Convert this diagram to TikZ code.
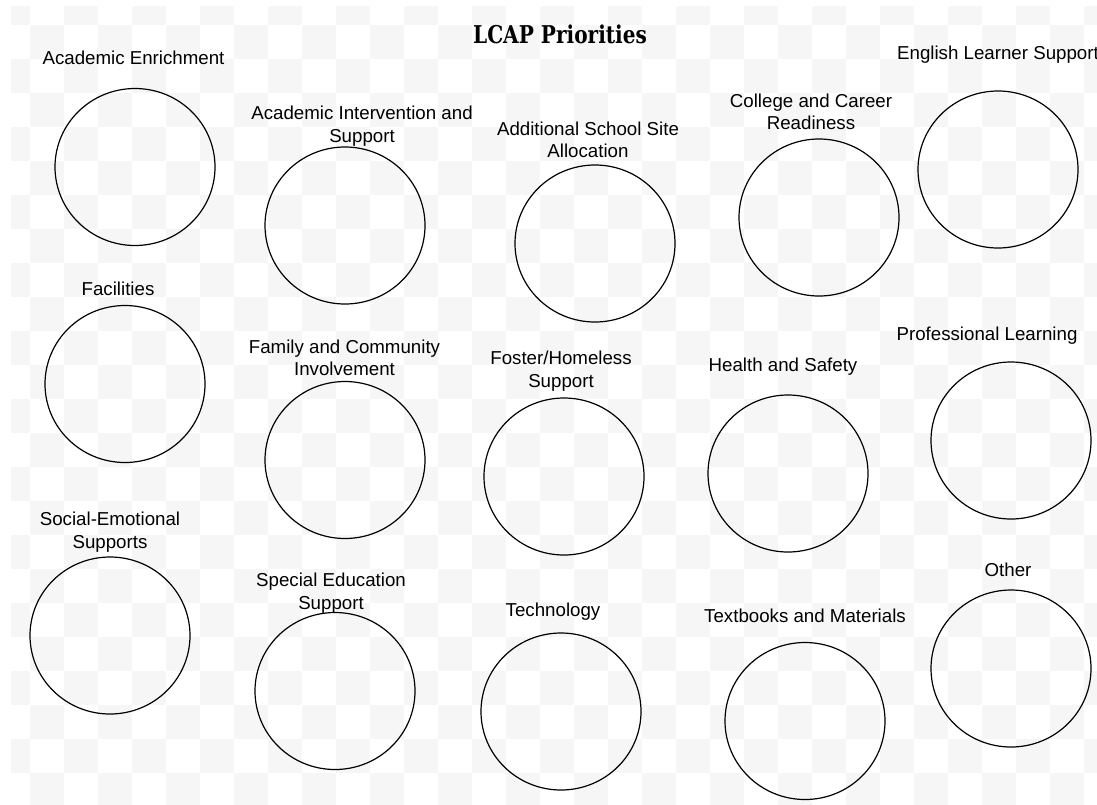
\documentclass[tikz,border=0pt]{standalone}
\usepackage{fontspec}
\setmainfont{Liberation Sans}
\newfontfamily\titlefont{DejaVu Serif}
\usetikzlibrary{shapes.geometric}
\definecolor{checkgray}{HTML}{F6F6F6}
\tikzset{
  prio/.style={draw=black, line width=1.2pt, ellipse, minimum width=160pt, minimum height=157pt, inner sep=0pt},
  lbl/.style={align=center, inner sep=0pt, font=\fontsize{18.7}{22.5}\selectfont, text=black},
}
\begin{document}
\begin{tikzpicture}[x=1pt,y=-1pt]
\useasboundingbox (0,0) rectangle (1097,804);
\fill[white] (0,0) rectangle (1097,804);
\begin{scope}
\clip (11,6) rectangle (1097,804);
\foreach \i in {0,...,32} {
  \foreach \j in {0,...,23} {
    \pgfmathtruncatemacro\cpar{mod(\i+\j,2)}
    \ifnum\cpar=0
      \fill[checkgray] ({29.8+34*(\i-1)},{25+34*(\j-1)}) rectangle +(34,34);
    \fi
  }
}
\end{scope}

\node[inner sep=0pt] (title) at (560,34) {\scalebox{0.82}[1]{\titlefont\bfseries\fontsize{24.5}{28}\selectfont LCAP Priorities}};

% circles
\node[prio] (ae) at (135,167) {};
\node[prio] (ais) at (345,225.5) {};
\node[prio] (assa) at (595,243.5) {};
\node[prio] (ccr) at (819,217.5) {};
\node[prio] (els) at (998,169.5) {};
\node[prio] (fac) at (125,384) {};
\node[prio] (fci) at (345,460) {};
\node[prio] (fhs) at (564,476.5) {};
\node[prio] (hs) at (788,473.5) {};
\node[prio] (pl) at (1011,440.5) {};
\node[prio] (ses) at (110,635.5) {};
\node[prio] (sped) at (335,691) {};
\node[prio] (tech) at (561,711.5) {};
\node[prio] (tm) at (805,721) {};
\node[prio] (oth) at (1011,668.5) {};

% labels
\node[lbl] (ael) at (133.5,58) {Academic Enrichment};
\node[lbl] (aisl) at (362,126) {Academic Intervention and\\Support};
\node[lbl] (assal) at (588,140) {Additional School Site\\Allocation};
\node[lbl] (ccrl) at (811,112) {College and Career\\Readiness};
\node[lbl] (elsl) at (998,55) {English Learner Support};
\node[lbl] (facl) at (118,289) {Facilities};
\node[lbl] (fcil) at (344.5,358) {Family and Community\\Involvement};
\node[lbl] (fhsl) at (561,371) {Foster/Homeless\\Support};
\node[lbl] (hsl) at (783,367) {Health and Safety};
\node[lbl] (pll) at (987,336) {Professional Learning};
\node[lbl] (sesl) at (110,532) {Social-Emotional\\Supports};
\node[lbl] (spedl) at (331,593) {Special Education\\Support};
\node[lbl] (techl) at (553,612) {Technology};
\node[lbl] (tml) at (805,616) {Textbooks and Materials};
\node[lbl] (othl) at (1008,570) {Other};
\end{tikzpicture}
\end{document}
